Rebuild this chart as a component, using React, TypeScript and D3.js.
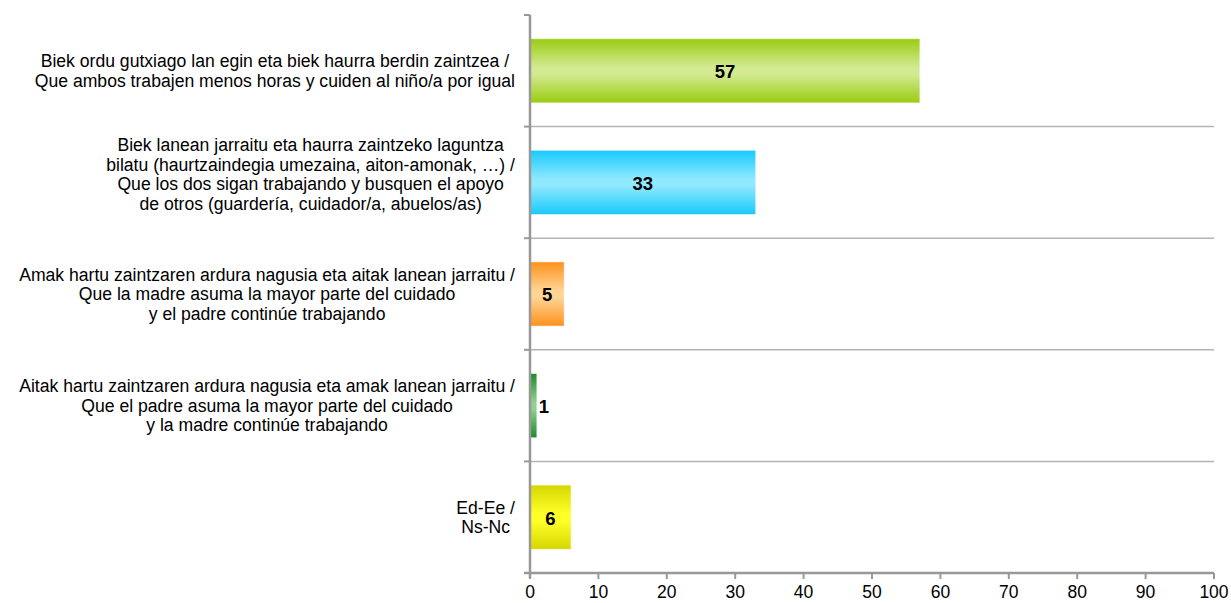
import React, { useRef, useEffect } from "react";
import * as d3 from "d3";

// category labels, one array of lines per bar
const categories: string[][] = [
  [
    "Biek ordu gutxiago lan egin eta biek haurra berdin zaintzea /",
    "Que ambos trabajen menos horas y cuiden al niño/a por igual",
  ],
  [
    "Biek lanean jarraitu eta haurra zaintzeko laguntza",
    "bilatu (haurtzaindegia umezaina, aiton-amonak, …) /",
    "Que los dos sigan trabajando y busquen el apoyo",
    "de otros (guardería, cuidador/a, abuelos/as)",
  ],
  [
    "Amak hartu zaintzaren ardura nagusia eta aitak lanean jarraitu /",
    "Que la madre asuma la mayor parte del cuidado",
    "y el padre continúe trabajando",
  ],
  [
    "Aitak hartu zaintzaren ardura nagusia eta amak lanean jarraitu /",
    "Que el padre asuma la mayor parte del cuidado",
    "y la madre continúe trabajando",
  ],
  ["Ed-Ee /", "Ns-Nc"],
];

const values = [57, 33, 5, 1, 6];

// edge / middle colours of each bar's gradient
const edgeColors = ["#99cc11", "#19c9fc", "#fd911c", "#1e8a2c", "#d6d600"];
const midColors = ["#d3ea93", "#8fe9ff", "#ffd596", "#92d08f", "#ffff2a"];

const xTicks = [0, 10, 20, 30, 40, 50, 60, 70, 80, 90, 100];

const App = () => {
  const svgRef = useRef<SVGSVGElement>(null);

  useEffect(() => {
    document.body.style.margin = "0";
    const width = 1231;
    const height = 603;
    const left = 530;
    const right = 1214;
    const top = 15;
    const bottom = 573;
    const font = "Arial, 'Liberation Sans', sans-serif";

    const svg = d3.select(svgRef.current)
      .attr("width", width)
      .attr("height", height);
    svg.selectAll("*").remove();

    const x = d3.scaleLinear().domain([0, 100]).range([left, right]);
    const y = d3.scaleBand<number>()
      .domain(d3.range(categories.length))
      .range([top, bottom])
      .paddingInner(0.425)
      .paddingOuter(0.2125);
    const step = y.step();
    const bandTop = (i: number) => top + i * step;

    const defs = svg.append("defs");
    values.forEach((_, i) => {
      const g = defs.append("linearGradient")
        .attr("id", `grad${i}`)
        .attr("x1", 0).attr("y1", 0).attr("x2", 0).attr("y2", 1);
      g.append("stop").attr("offset", "0%").attr("stop-color", edgeColors[i]);
      g.append("stop").attr("offset", "45%").attr("stop-color", midColors[i]);
      g.append("stop").attr("offset", "55%").attr("stop-color", midColors[i]);
      g.append("stop").attr("offset", "100%").attr("stop-color", edgeColors[i]);
    });

    // horizontal separators between categories
    svg.append("g")
      .selectAll("line")
      .data(d3.range(1, categories.length))
      .enter()
      .append("line")
      .attr("x1", left)
      .attr("x2", right)
      .attr("y1", d => bandTop(d))
      .attr("y2", d => bandTop(d))
      .attr("stroke", "#b4b4b4")
      .attr("stroke-width", 1.5);

    // bars
    svg.append("g")
      .selectAll("rect")
      .data(values)
      .enter()
      .append("rect")
      .attr("x", x(0))
      .attr("y", (d, i) => y(i)!)
      .attr("width", d => x(d) - x(0))
      .attr("height", y.bandwidth())
      .attr("fill", (d, i) => `url(#grad${i})`)
      .attr("stroke", "#ffffff")
      .attr("stroke-opacity", 0.5)
      .attr("stroke-width", 1);

    // value labels
    svg.append("g")
      .selectAll("text")
      .data(values)
      .enter()
      .append("text")
      .attr("x", d => (d < 3 ? x(d) + 7 : (x(d) + x(0)) / 2))
      .attr("y", (d, i) => y(i)! + y.bandwidth() / 2 + 1)
      .attr("dy", "0.35em")
      .attr("text-anchor", "middle")
      .attr("font-family", font)
      .attr("font-size", "18.5px")
      .attr("font-weight", "bold")
      .attr("fill", "#000")
      .text(d => d);

    // axes
    const axisColor = "#989898";
    svg.append("line")
      .attr("x1", left).attr("x2", left)
      .attr("y1", top).attr("y2", bottom + 5)
      .attr("stroke", axisColor).attr("stroke-width", 2.5);
    svg.append("line")
      .attr("x1", left - 6).attr("x2", right)
      .attr("y1", bottom).attr("y2", bottom)
      .attr("stroke", axisColor).attr("stroke-width", 2.5);

    svg.append("g")
      .selectAll("line")
      .data(d3.range(0, categories.length + 1))
      .enter()
      .append("line")
      .attr("x1", left - 6).attr("x2", left)
      .attr("y1", d => bandTop(d)).attr("y2", d => bandTop(d))
      .attr("stroke", axisColor).attr("stroke-width", 2);

    const xt = svg.append("g");
    xt.selectAll("line")
      .data(xTicks)
      .enter()
      .append("line")
      .attr("x1", d => x(d)).attr("x2", d => x(d))
      .attr("y1", bottom).attr("y2", bottom + 6)
      .attr("stroke", axisColor).attr("stroke-width", 2);
    xt.selectAll("text")
      .data(xTicks)
      .enter()
      .append("text")
      .attr("x", d => x(d))
      .attr("y", bottom + 19)
      .attr("dy", "0.35em")
      .attr("text-anchor", "middle")
      .attr("font-family", font)
      .attr("font-size", "17.5px")
      .attr("fill", "#000")
      .text(d => d);

    // category labels: block right-aligned, lines centred within it
    const lineH = 19.5;
    const labels = svg.append("g");
    categories.forEach((lines, i) => {
      const cy = bandTop(i) + step / 2 + (lines.length > 3 ? -8 : 0);
      const t = labels.append("text")
        .attr("text-anchor", "middle")
        .attr("font-family", font)
        .attr("font-size", "17.6px")
        .attr("fill", "#000");
      lines.forEach((line, j) => {
        t.append("tspan")
          .attr("y", cy + (j - (lines.length - 1) / 2) * lineH)
          .attr("dy", "0.35em")
          .text(line);
      });
      const maxW = d3.max(t.selectAll<SVGTSpanElement, unknown>("tspan").nodes(),
        n => n.getComputedTextLength()) || 0;
      t.selectAll("tspan").attr("x", 515 - maxW / 2);
    });
  }, []);

  return <svg ref={svgRef}></svg>;
};

export default App;
